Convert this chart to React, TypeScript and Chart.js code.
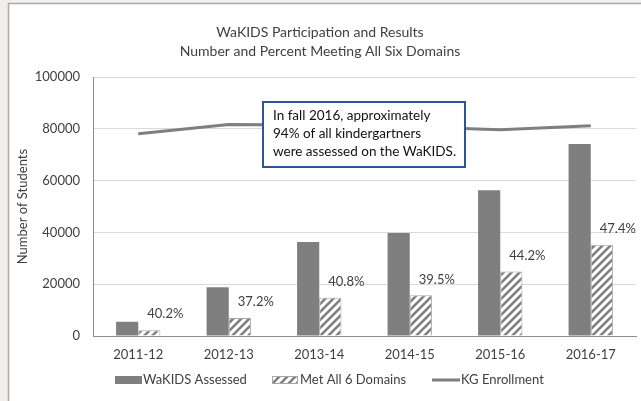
import React, { useEffect, useRef } from 'react';
import { Chart, registerables } from 'chart.js';

Chart.register(...registerables);

const categories = ['2011-12', '2012-13', '2013-14', '2014-15', '2015-16', '2016-17'];
const wakidsAssessed = [5500, 18800, 36300, 39800, 56300, 74200];
const metAllSix = [2200, 7000, 14800, 15700, 24900, 35200];
const kgEnrollment = [78100, 81700, 81500, 80800, 79700, 81200];
const pctMetLabels = ['40.2%', '37.2%', '40.8%', '39.5%', '44.2%', '47.4%'];
const yTickValues = [0, 20000, 40000, 60000, 80000, 100000];
const titleLines = ['WaKIDS Participation and Results', 'Number and Percent Meeting All Six Domains'];
const yAxisTitle = 'Number of Students';
const seriesNames = ['WaKIDS Assessed', 'Met All 6 Domains', 'KG Enrollment'];
const noteLines = [
  'In fall 2016, approximately',
  '94% of all kindergartners',
  'were assessed on the WaKIDS.',
];

const FONT = 'Lato, "Open Sans", sans-serif';
const TEXT = '#404040';
const GRAY = '#7f7f7f';

function makeHatch(): CanvasPattern | string {
  const c = document.createElement('canvas');
  c.width = 8;
  c.height = 8;
  const g = c.getContext('2d');
  if (!g) return '#ffffff';
  g.fillStyle = '#ffffff';
  g.fillRect(0, 0, 8, 8);
  g.strokeStyle = GRAY;
  g.lineWidth = 2.6;
  g.lineCap = 'square';
  g.beginPath();
  g.moveTo(-2, 10);
  g.lineTo(10, -2);
  g.moveTo(-6, 6);
  g.lineTo(6, -6);
  g.moveTo(2, 14);
  g.lineTo(14, 2);
  g.stroke();
  const p = g.createPattern(c, 'repeat');
  return p || '#ffffff';
}

export default function App() {
  const ref = useRef<HTMLCanvasElement | null>(null);

  useEffect(() => {
    document.body.style.margin = '0';
    const canvas = ref.current;
    if (!canvas) return;
    const hatch = makeHatch();

    const framePlugin = {
      id: 'frame',
      beforeDraw(chart: any) {
        const ctx = chart.ctx;
        ctx.save();
        ctx.fillStyle = '#f1eeee';
        ctx.fillRect(0, 0, chart.width, chart.height);
        ctx.fillStyle = '#ffffff';
        ctx.fillRect(8, 3, chart.width, chart.height);
        ctx.strokeStyle = '#a9a9a9';
        ctx.lineWidth = 1.5;
        ctx.strokeRect(8.5, 3.5, chart.width + 10, chart.height + 10);
        ctx.restore();
      },
    };

    const overlayPlugin = {
      id: 'overlay',
      afterDatasetsDraw(chart: any) {
        const ctx = chart.ctx;
        ctx.save();
        // percent labels above the "Met All 6 Domains" bars
        const meta = chart.getDatasetMeta(1);
        ctx.font = `13px ${FONT}`;
        ctx.fillStyle = TEXT;
        ctx.textAlign = 'center';
        ctx.textBaseline = 'middle';
        meta.data.forEach((bar: any, i: number) => {
          ctx.fillText(pctMetLabels[i], bar.x + 16, bar.y - 16);
        });

        // note box
        const bx = 263, by = 102, bw = 202, bh = 65;
        ctx.fillStyle = '#ffffff';
        ctx.fillRect(bx, by, bw, bh);
        ctx.strokeStyle = '#2f5597';
        ctx.lineWidth = 2;
        ctx.strokeRect(bx, by, bw, bh);
        ctx.fillStyle = '#111111';
        ctx.textAlign = 'left';
        ctx.font = `13.5px ${FONT}`;
        noteLines.forEach((t, i) => ctx.fillText(t, 273, 116 + i * 18));

        // legend
        const ly = 380;
        ctx.font = `13px ${FONT}`;
        ctx.fillStyle = GRAY;
        ctx.fillRect(115, ly - 4, 27, 8);
        ctx.fillStyle = TEXT;
        ctx.fillText(seriesNames[0], 143, ly);
        ctx.fillStyle = hatch as any;
        ctx.fillRect(272, ly - 4, 26, 8);
        ctx.strokeStyle = '#a6a6a6';
        ctx.lineWidth = 1;
        ctx.strokeRect(272.5, ly - 3.5, 25, 7);
        ctx.fillStyle = TEXT;
        ctx.fillText(seriesNames[1], 300, ly);
        ctx.strokeStyle = GRAY;
        ctx.lineWidth = 3;
        ctx.beginPath();
        ctx.moveTo(432, ly);
        ctx.lineTo(460, ly);
        ctx.stroke();
        ctx.fillText(seriesNames[2], 461, ly);
        ctx.restore();
      },
    };

    const chart = new Chart(canvas, {
      type: 'bar',
      data: {
        labels: categories,
        datasets: [
          {
            label: seriesNames[0],
            data: wakidsAssessed,
            backgroundColor: GRAY,
            borderWidth: 0,
            order: 1,
          },
          {
            label: seriesNames[1],
            data: metAllSix,
            backgroundColor: hatch as any,
            borderColor: '#a6a6a6',
            borderWidth: 1,
            order: 1,
          },
          {
            type: 'line',
            label: seriesNames[2],
            data: kgEnrollment,
            borderColor: GRAY,
            backgroundColor: GRAY,
            borderWidth: 3,
            pointRadius: 0,
            tension: 0,
            order: 0,
          } as any,
        ],
      },
      options: {
        animation: false,
        responsive: false,
        maintainAspectRatio: false,
        layout: { padding: { left: 4, right: 5, top: 23, bottom: 35 } },
        datasets: { bar: { categoryPercentage: 0.49, barPercentage: 1 } } as any,
        plugins: {
          legend: { display: false },
          tooltip: { enabled: false },
          title: {
            display: true,
            text: titleLines,
            font: { family: FONT, size: 14, weight: 'normal' as any, lineHeight: 1.36 },
            color: TEXT,
            padding: { top: 0, bottom: 16 },
          },
        },
        scales: {
          x: {
            grid: { display: false, drawTicks: false },
            border: { color: '#8c8c8c', width: 1 },
            ticks: { font: { family: FONT, size: 13 }, color: TEXT, padding: 11 },
            afterFit: (axis: any) => {
              axis.height = 30;
            },
          },
          y: {
            min: 0,
            max: 100000,
            grid: { color: '#d9d9d9', drawTicks: false },
            border: { color: '#8c8c8c', width: 1 },
            ticks: {
              font: { family: FONT, size: 13 },
              color: TEXT,
              padding: 13,
              callback: (v: any) => String(v),
            },
            afterBuildTicks: (axis: any) => {
              axis.ticks = yTickValues.map((v) => ({ value: v }));
            },
            title: {
              display: true,
              text: yAxisTitle,
              font: { family: FONT, size: 13 },
              color: TEXT,
              padding: { top: 11, bottom: 0 },
            },
            afterFit: (axis: any) => {
              axis.width = 89;
            },
          },
        },
      },
      plugins: [framePlugin, overlayPlugin],
    });

    return () => chart.destroy();
  }, []);

  return (
    <div style={{ position: 'absolute', left: 0, top: 0, width: 641, height: 401 }}>
      <canvas ref={ref} width={641} height={401} style={{ width: 641, height: 401, display: 'block' }} />
    </div>
  );
}
